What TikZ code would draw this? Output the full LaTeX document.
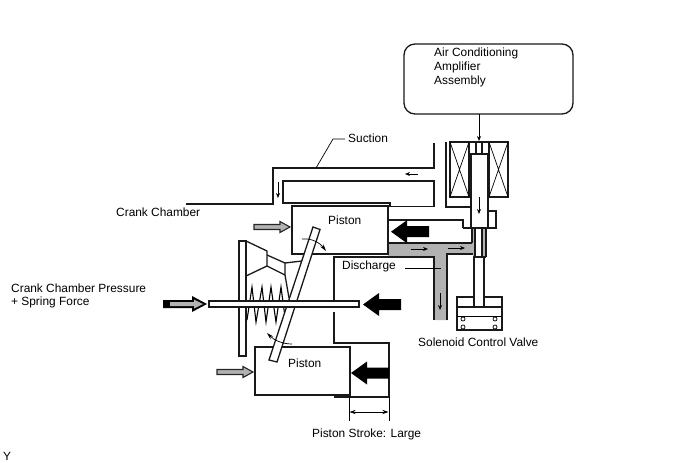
\documentclass[tikz,border=0pt]{standalone}
\usepackage{fontspec}
\setmainfont{Liberation Sans}
\usetikzlibrary{arrows.meta}
\definecolor{channel}{gray}{0.70}
\tikzset{
  wall/.style={line width=1.3pt,draw=black!90},
  thin part/.style={line width=0.7pt,draw=black},
  flow/.style={line width=0.7pt,-{Stealth[length=5pt,width=4pt]}},
  label/.style={font=\fontsize{11.9pt}{14pt}\selectfont,inner sep=0pt,anchor=west},
  solid head/.pic={\fill[black] (0,0)--(16,-11.5)--(16,-5.5)--(38,-5.5)--(38,5.5)--(16,5.5)--(16,11.5)--cycle;},
  gray head/.pic={\filldraw[fill=channel,draw=black!85,line width=1.1pt] (0,0)--(-10,-5.5)--(-10,-2.5)--(-36,-2.5)--(-36,2.5)--(-10,2.5)--(-10,5.5)--cycle;}
}
\begin{document}
\begin{tikzpicture}[x=1pt,y=-1pt]
\useasboundingbox (0,0) rectangle (688,463);

% discharge passage
\fill[channel] (388,243)--(472,243)--(472,228)--(486,228)--(486,257)--(473,257)--(473,254)--(447,254)--(447,320)--(434,320)--(434,257)--(388,257)--cycle;

% amplifier
\draw[wall,rounded corners=11pt] (404,44) rectangle (573,114);
\node[label] (amp1) at (434,53) {Air Conditioning};
\node[label] (amp2) at (434,67) {Amplifier};
\node[label] (amp3) at (434,81) {Assembly};
\coordinate (ampout) at (479,114);
\coordinate (coiltop) at (479,141);
\draw[flow] (ampout)--(coiltop);

% solenoid coils and plunger
\draw[wall] (450,142) rectangle (469,197);
\draw[wall] (489,142) rectangle (508,197);
\draw[thin part] (450,142)--(469,197) (469,142)--(450,197) (489,142)--(508,197) (508,142)--(489,197);
\draw[wall] (469,142)--(489,142);
\draw[wall] (476,142)--(476,154) (482,142)--(482,154);
\draw[wall] (469,154)--(489,154);
\draw[wall] (471,154) rectangle (488,228);
\draw[wall] (446,142)--(446,207)--(471,207);
\draw[wall] (488,211)--(496,211)--(496,228)--(488,228);
\draw[flow] (479,197)--(479,214);

% valve stem
\draw[wall] (472,228)--(472,243);
\draw[wall] (486,228)--(486,257);
\draw[wall,fill=white] (475,228) rectangle (482,257);
\draw[wall] (473,257)--(486,257);
\draw[wall] (474,257)--(474,297) (484,257)--(484,297);

% valve body
\draw[wall,fill=white] (474,297)--(457,297)--(457,330)--(502,330)--(502,297)--(484,297)--(484,307)--(474,307)--cycle;
\draw[wall] (457,307)--(502,307);
\draw[thin part] (457,316)--(502,316);
\foreach \cx/\cy in {463/319,495/319,463/327,495/327} \draw[thin part,fill=white] (\cx,\cy) circle (2);

% suction passage
\draw[wall] (434,143)--(434,168)--(273,168)--(273,204)--(186,204);
\draw[wall] (283,181)--(434,181)--(434,206.5)--(390,206.5)--(390,203)--(283,203)--cycle;
\draw[flow] (418,174)--(405,174);
\draw[flow] (278,182)--(278,198);
\node[label] (suction) at (348,138) {Suction};
\draw[thin part] (316,168)--(333,139)--(345,139);

% discharge passage walls
\draw[wall] (463,228)--(463,220)--(388,220);
\draw[wall] (463,228)--(471,228);
\draw[wall] (388,243)--(472,243);
\draw[wall] (334,300)--(334,257)--(434,257)--(434,320);
\draw[wall] (447,320)--(447,254)--(473,254);
\draw[flow] (411,249)--(428,249);
\draw[flow] (448,248)--(465,248);
\draw[flow] (440,293)--(440,310);
\draw[thin part] (405,268)--(441,268);
\node[label] (discharge) at (342,266) {Discharge};

% cylinder housing below the shaft
\draw[wall] (334,312)--(334,343)--(389,343)--(389,397)--(334,397);
\draw[thin part] (349,397)--(349,421) (389,397)--(389,421);
\draw[line width=0.7pt,{Stealth[length=6pt,width=4pt]}-{Stealth[length=6pt,width=4pt]}] (349.5,412)--(388.5,412);

% pistons
\draw[wall,fill=white] (292,206) rectangle (388,254);
\node[label] (piston1) at (328,220) {Piston};
\draw[wall,fill=white] (255,347) rectangle (350,395);
\node[label] (piston2) at (288,363) {Piston};

% cone and drive plate
\draw[wall,fill=white] (239,241) rectangle (246,356);
\draw[wall] (246,241)--(267,251)--(267,266)--(246,276);
\draw[wall] (267,255)--(285,263)--(285,275)--(267,266);
\draw[wall] (285,263)--(302,261);
\draw[wall] (285,275)--(289,298);

% return spring
\draw[line width=1.1pt] (247,320)--(252,287)--(256,322)--(262,287)--(266,322)--(271,287)--(276,322)--(281,287)--(285,317);

% swash plate
\draw[wall,fill=white] (313,227)--(320,229.5)--(277,362)--(269,360)--cycle;

% rotation marks
\draw[line width=0.7pt,-{Stealth[length=7pt,width=4pt]}] (302,239) .. controls (312,238) and (320,243) .. (326,251);
\draw[line width=0.7pt,-{Stealth[length=7pt,width=4pt]}] (292,344) .. controls (282,344) and (274,340) .. (267,333);

% shaft
\draw[wall,fill=white] (209,301) rectangle (359,307);

% pressure arrows
\pic at (391,231.7) {solid head};
\pic at (363,304.5) {solid head};
\pic at (351,373) {solid head};
\pic at (290,227) {gray head};
\pic at (253,372) {gray head};
\fill[black] (207,304)--(192,296)--(192,300)--(163,300)--(163,308)--(192,308)--(192,312)--cycle;
\fill[channel] (170,302)--(194,302)--(194,299.5)--(203,304)--(194,308.5)--(194,306)--(170,306)--cycle;

% labels
\node[label] (crank) at (116,212) {Crank Chamber};
\node[label] (force1) at (11,288) {Crank Chamber Pressure};
\node[label] (force2) at (11,302) {+ Spring Force};
\node[label] (valve) at (418,342) {Solenoid Control Valve};
\node[label] (stroke) at (312,434) {Piston Stroke: Large};
\node[label] (mark) at (3,456) {Y};
\end{tikzpicture}
\end{document}
